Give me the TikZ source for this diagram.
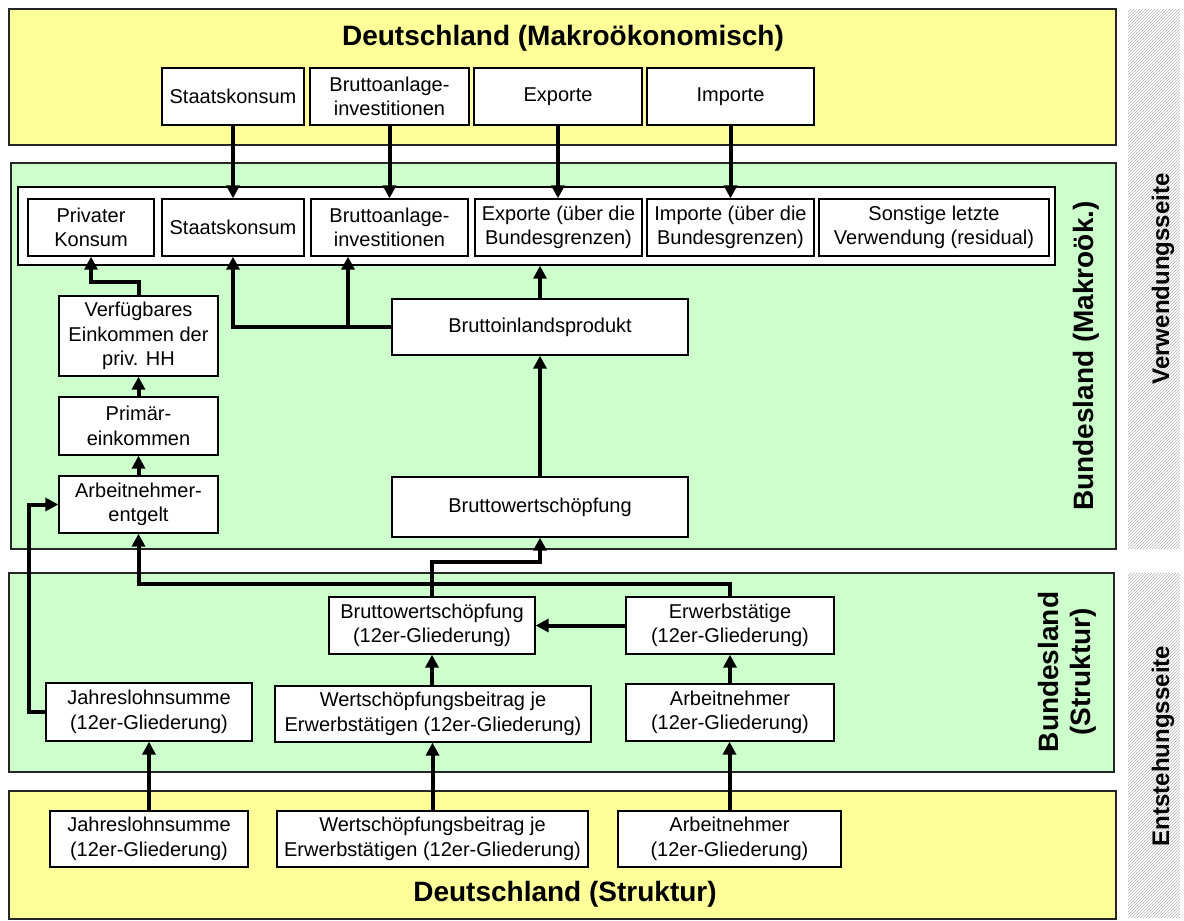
\documentclass[tikz,border=0pt]{standalone}
\usepackage{fontspec}
\setmainfont{Liberation Sans}
\usetikzlibrary{arrows.meta,patterns}
\definecolor{ylw}{HTML}{FFFF99}
\definecolor{grn}{HTML}{CCFFCC}
\begin{document}
\begin{tikzpicture}[x=1pt,y=-1pt,
  box/.style={draw=black,line width=1.3pt,fill=white,align=center,inner sep=0pt,
    font=\fontsize{20}{24.5}\selectfont},
  panelY/.style={draw=black!85,line width=1.3pt,fill=ylw},
  panelG/.style={draw=black!85,line width=1.3pt,fill=grn},
  hatch/.style={pattern=north east lines,pattern color=gray!60},
  arr/.style={line width=4pt,-{Triangle[length=13pt,width=13pt]}},
  lin/.style={line width=4pt},
  title/.style={font=\fontsize{28}{32}\selectfont\bfseries,align=center},
  side/.style={font=\fontsize{24}{28}\selectfont\bfseries,rotate=90}
]
\useasboundingbox (0,0) rectangle (1184,921);
% panels
\path[panelY] (9,9) rectangle (1116,145);
\path[panelG] (11,163) rectangle (1116,549);
\path[panelG] (9,573) rectangle (1114,772);
\path[panelY] (9,791) rectangle (1116,919);
\path[hatch] (1128,9) rectangle (1180,548);
\path[hatch] (1128,573) rectangle (1180,917);
% titles
\node[title] (tTitle) at (563,38) {Deutschland (Makroökonomisch)};
\node[title] (bTitle) at (565,894) {Deutschland (Struktur)};
\node[title,rotate=90] (mLabel) at (1086,356) {Bundesland (Makroök.)};
\node[title,rotate=90] (sLabel) at (1067,672) {Bundesland\\(Struktur)};
\node[side] (vLabel) at (1163,279) {Verwendungsseite};
\node[side] (eLabel) at (1163,746) {Entstehungsseite};
% top boxes
\node[box,minimum width=142pt,minimum height=57pt] (tStaat) at (233,96.5) {Staatskonsum};
\node[box,minimum width=159pt,minimum height=57pt] (tBrutto) at (389.5,96.5) {Bruttoanlage-\\investitionen};
\node[box,minimum width=168pt,minimum height=57pt] (tExp) at (558,96.5) {Exporte};
\node[box,minimum width=167pt,minimum height=57pt] (tImp) at (730.5,96.5) {Importe};
% container and inner boxes
\node[box,minimum width=1037pt,minimum height=78pt] (cont) at (536.5,226) {};
\node[box,minimum width=126pt,minimum height=57pt] (iPK) at (91,227.5) {Privater\\Konsum};
\node[box,minimum width=142pt,minimum height=57pt] (iStaat) at (233,227.5) {Staatskonsum};
\node[box,minimum width=157pt,minimum height=57pt] (iBrutto) at (389.5,227.5) {Bruttoanlage-\\investitionen};
\node[box,minimum width=167pt,minimum height=57pt] (iExp) at (558.5,227.5) {Exporte (über die\\Bundesgrenzen)};
\node[box,minimum width=167pt,minimum height=57pt] (iImp) at (730.5,227.5) {Importe (über die\\Bundesgrenzen)};
\node[box,minimum width=230pt,minimum height=57pt] (iSonst) at (934,227.5) {Sonstige letzte\\Verwendung (residual)};
% makro panel boxes
\node[box,minimum width=159pt,minimum height=80pt] (VE) at (138.5,336) {Verfügbares\\Einkommen der\\priv. HH};
\node[box,minimum width=159pt,minimum height=58pt] (PE) at (138.5,426) {Primär-\\einkommen};
\node[box,minimum width=159pt,minimum height=57pt] (AE) at (138.5,504.5) {Arbeitnehmer-\\entgelt};
\node[box,minimum width=296pt,minimum height=56pt] (BIP) at (540,327) {Bruttoinlandsprodukt};
\node[box,minimum width=296pt,minimum height=60pt] (BWS) at (540,507) {Bruttowertschöpfung};
% struktur panel boxes
\node[box,minimum width=206pt,minimum height=58pt] (sJLS) at (149,712) {Jahreslohnsumme\\(12er-Gliederung)};
\node[box,minimum width=316pt,minimum height=56pt] (sWSB) at (433,714) {Wertschöpfungsbeitrag je\\Erwerbstätigen (12er-Gliederung)};
\node[box,minimum width=208pt,minimum height=57pt] (sAN) at (730,712.5) {Arbeitnehmer\\(12er-Gliederung)};
\node[box,minimum width=206pt,minimum height=57pt] (sBWS) at (432,625.5) {Bruttowertschöpfung\\(12er-Gliederung)};
\node[box,minimum width=208pt,minimum height=57pt] (sET) at (730,625.5) {Erwerbstätige\\(12er-Gliederung)};
% bottom boxes
\node[box,minimum width=198pt,minimum height=56pt] (bJLS) at (149,839) {Jahreslohnsumme\\(12er-Gliederung)};
\node[box,minimum width=311pt,minimum height=56pt] (bWSB) at (432.5,839) {Wertschöpfungsbeitrag je\\Erwerbstätigen (12er-Gliederung)};
\node[box,minimum width=223pt,minimum height=56pt] (bAN) at (729.5,839) {Arbeitnehmer\\(12er-Gliederung)};
% coordinates
\coordinate (jx) at (29,0);
\coordinate (ky) at (0,584);
\coordinate (my) at (0,562);
\coordinate (vy) at (0,282);
\coordinate (br) at (348,327);
% top arrows
\draw[arr] (tStaat.south) -- (tStaat.south |- iStaat.north);
\draw[arr] (tBrutto.south) -- (tBrutto.south |- iBrutto.north);
\draw[arr] (tExp.south) -- (tExp.south |- iExp.north);
\draw[arr] (tImp.south) -- (tImp.south |- iImp.north);
% makro arrows
\draw[arr] (VE.north) -- (VE.north |- vy) -| (iPK.south);
\draw[arr] (PE.north) -- (VE.south);
\draw[arr] (AE.north) -- (PE.south);
\draw[arr] (BIP.west) -| (iStaat.south);
\draw[arr] (br) -- (br |- iBrutto.south);
\draw[arr] (BIP.north) -- (BIP.north |- cont.south);
\draw[arr] (BWS.north) -- (BIP.south);
% struktur arrows
\draw[arr] (sJLS.west) -- (sJLS.west -| jx) |- (AE.west);
\draw[arr] (sET.north) -- (sET.north |- ky) -| (AE.south);
\draw[arr] (sBWS.north) -- (sBWS.north |- my) -| (BWS.south);
\draw[arr] (sET.west) -- (sBWS.east);
\draw[arr] (sBWS.south |- sWSB.north) -- (sBWS.south);
\draw[arr] (sAN.north) -- (sET.south);
% bottom arrows
\draw[arr] (bJLS.north) -- (bJLS.north |- sJLS.south);
\draw[arr] (bWSB.north) -- (bWSB.north |- sWSB.south);
\draw[arr] (bAN.north) -- (bAN.north |- sAN.south);
\end{tikzpicture}
\end{document}
